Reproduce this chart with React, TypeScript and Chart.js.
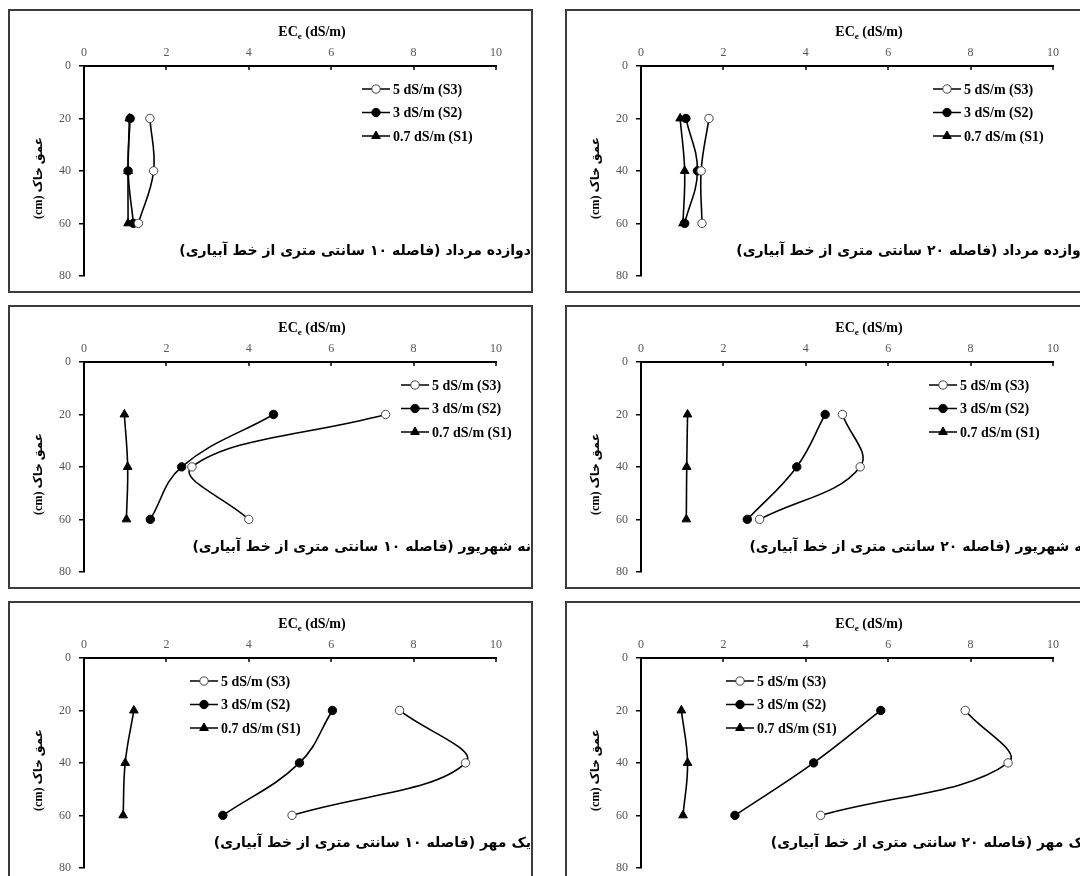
import React, { useEffect, useRef } from 'react';
import { Chart, registerables } from 'chart.js';
import { drawPoint } from 'chart.js/helpers';

Chart.register(...registerables);

const SERIF = "'Liberation Serif', 'Times New Roman', serif";
const ARABIC = "'DejaVu Sans', sans-serif";

// ---- data ----
const depths = [20, 40, 60];
const seriesLabels = ['5 dS/m (S3)', '3 dS/m (S2)', '0.7 dS/m (S1)'];
const xTitleMain = 'EC';
const xTitleSub = 'e';
const xTitleUnit = ' (dS/m)';
const yTitle = '(cm) عمق خاک';

const mordad10S3 = [1.6, 1.69, 1.32];
const mordad10S2 = [1.12, 1.07, 1.2];
const mordad10S1 = [1.1, 1.07, 1.07];
const mordad20S3 = [1.65, 1.46, 1.48];
const mordad20S2 = [1.09, 1.37, 1.06];
const mordad20S1 = [0.95, 1.06, 1.02];
const shahrivar10S3 = [7.32, 2.62, 4.0];
const shahrivar10S2 = [4.6, 2.37, 1.61];
const shahrivar10S1 = [0.98, 1.06, 1.03];
const shahrivar20S3 = [4.89, 5.32, 2.88];
const shahrivar20S2 = [4.47, 3.78, 2.58];
const shahrivar20S1 = [1.13, 1.11, 1.1];
const mehr10S3 = [7.66, 9.26, 5.05];
const mehr10S2 = [6.03, 5.23, 3.37];
const mehr10S1 = [1.21, 1.0, 0.95];
const mehr20S3 = [7.87, 8.91, 4.36];
const mehr20S2 = [5.82, 4.19, 2.28];
const mehr20S1 = [0.98, 1.13, 1.02];

const titleMordad10 = 'دوازده مرداد (فاصله ۱۰ سانتی متری از خط آبیاری)';
const titleMordad20 = 'دوازده مرداد (فاصله ۲۰ سانتی متری از خط آبیاری)';
const titleShahrivar10 = 'نه شهریور (فاصله ۱۰ سانتی متری از خط آبیاری)';
const titleShahrivar20 = 'نه شهریور (فاصله ۲۰ سانتی متری از خط آبیاری)';
const titleMehr10 = 'یک مهر (فاصله ۱۰ سانتی متری از خط آبیاری)';
const titleMehr20 = 'یک مهر (فاصله ۲۰ سانتی متری از خط آبیاری)';

// ---- layout ----
const BOX_W = 525;
const BOX_H = 284;
const BORDER = 2;
const CW = BOX_W - 2 * BORDER;
const CH = BOX_H - 2 * BORDER;

const decorPlugin = {
  id: 'decor',
  afterDraw(chart: any, _args: any, opts: any) {
    const ctx = chart.ctx as CanvasRenderingContext2D;
    const { top } = chart.chartArea;
    const xs = chart.scales.x;
    ctx.save();
    // inner tick marks on top axis
    ctx.strokeStyle = '#000';
    ctx.lineWidth = 1.5;
    xs.ticks.forEach((t: any) => {
      const px = Math.round(xs.getPixelForValue(t.value));
      ctx.beginPath();
      ctx.moveTo(px, top);
      ctx.lineTo(px, top + 4);
      ctx.stroke();
    });

    // x axis title with subscript
    ctx.fillStyle = '#000';
    ctx.textBaseline = 'alphabetic';
    ctx.textAlign = 'left';
    const big = `bold 14px ${SERIF}`;
    const small = `bold 9px ${SERIF}`;
    ctx.font = big;
    const w1 = ctx.measureText(xTitleMain).width;
    const w3 = ctx.measureText(xTitleUnit).width;
    ctx.font = small;
    const w2 = ctx.measureText(xTitleSub).width;
    let tx = opts.xTitleX - (w1 + w2 + w3) / 2;
    const by = opts.xTitleY + 5;
    ctx.font = big;
    ctx.fillText(xTitleMain, tx, by);
    tx += w1;
    ctx.font = small;
    ctx.fillText(xTitleSub, tx, by + 3);
    tx += w2;
    ctx.font = big;
    ctx.fillText(xTitleUnit, tx, by);

    // y axis title (rotated)
    ctx.save();
    ctx.translate(opts.yTitleX, opts.yTitleY);
    ctx.rotate(-Math.PI / 2);
    ctx.font = `bold 12px ${SERIF}, ${ARABIC}`;
    ctx.textAlign = 'center';
    ctx.textBaseline = 'middle';
    ctx.fillText(yTitle, 0, 0);
    ctx.restore();

    // legend
    chart.data.datasets.forEach((ds: any, i: number) => {
      const y = opts.legendY + i * 23.5;
      const x0 = opts.legendX;
      ctx.strokeStyle = '#000';
      ctx.lineWidth = 1.5;
      ctx.beginPath();
      ctx.moveTo(x0, y);
      ctx.lineTo(x0 + 28, y);
      ctx.stroke();
      ctx.fillStyle = ds.pointBackgroundColor;
      ctx.strokeStyle = ds.pointBorderColor;
      ctx.lineWidth = ds.pointBorderWidth;
      drawPoint(ctx, { pointStyle: ds.pointStyle, radius: ds.pointRadius, borderWidth: ds.pointBorderWidth, rotation: 0 } as any, x0 + 14, y);
      ctx.fillStyle = '#000';
      ctx.font = `bold 14px ${SERIF}`;
      ctx.textAlign = 'left';
      ctx.textBaseline = 'middle';
      ctx.fillText(ds.label, x0 + 31, y + 1);
    });

    // panel title (Persian, right-to-left)
    ctx.direction = 'rtl';
    ctx.textAlign = 'right';
    ctx.textBaseline = 'middle';
    ctx.font = `bold 14px ${ARABIC}`;
    ctx.fillStyle = '#000';
    ctx.fillText(opts.title, opts.titleRight, opts.titleY);
    ctx.restore();
  },
};

type PanelProps = {
  left: number;
  top: number;
  s3: number[];
  s2: number[];
  s1: number[];
  title: string;
  legendX: number;
};

function Panel({ left, top, s3, s2, s1, title, legendX }: PanelProps) {
  const ref = useRef<HTMLCanvasElement>(null);
  useEffect(() => {
    const toPts = (arr: number[]) => depths.map((d, i) => ({ x: arr[i], y: d }));
    const tick = { color: '#555', font: { family: SERIF, size: 12 } };
    const chart = new Chart(ref.current as HTMLCanvasElement, {
      type: 'line',
      data: {
        datasets: [
          {
            label: seriesLabels[0],
            data: toPts(s3),
            borderColor: '#000',
            borderWidth: 1.6,
            tension: 0.4,
            pointStyle: 'circle',
            pointRadius: 4.2,
            pointBackgroundColor: '#fff',
            pointBorderColor: '#444',
            pointBorderWidth: 1,
          },
          {
            label: seriesLabels[1],
            data: toPts(s2),
            borderColor: '#000',
            borderWidth: 1.6,
            tension: 0.4,
            pointStyle: 'circle',
            pointRadius: 4.2,
            pointBackgroundColor: '#000',
            pointBorderColor: '#000',
            pointBorderWidth: 1,
          },
          {
            label: seriesLabels[2],
            data: toPts(s1),
            borderColor: '#000',
            borderWidth: 1.6,
            tension: 0.4,
            pointStyle: 'triangle',
            pointRadius: 5,
            pointBackgroundColor: '#000',
            pointBorderColor: '#000',
            pointBorderWidth: 1,
          },
        ],
      } as any,
      options: {
        responsive: false,
        maintainAspectRatio: false,
        animation: false,
        devicePixelRatio: 1,
        layout: { padding: { left: 0, top: 0, right: CW - 486, bottom: CH - 266 } },
        plugins: {
          legend: { display: false },
          tooltip: { enabled: false },
          decor: {
            title,
            legendX,
            legendY: 78,
            xTitleX: 302,
            xTitleY: 20,
            yTitleX: 29,
            yTitleY: 167,
            titleRight: 521,
            titleY: 240,
          },
        } as any,
        scales: {
          x: {
            type: 'linear',
            position: 'top',
            min: 0,
            max: 10,
            ticks: { ...tick, stepSize: 2, padding: 6, maxRotation: 0 },
            grid: { display: true, drawOnChartArea: false, drawTicks: false },
            border: { display: true, color: '#000', width: 2 },
            afterFit: (s: any) => {
              s.height = 55;
            },
          },
          y: {
            type: 'linear',
            reverse: true,
            min: 0,
            max: 80,
            ticks: { ...tick, stepSize: 20, padding: 8 },
            grid: { display: true, drawOnChartArea: false, drawTicks: true, tickLength: 5, tickColor: '#000', lineWidth: 1.5 },
            border: { display: true, color: '#000', width: 2 },
            afterFit: (s: any) => {
              s.width = 74;
            },
          },
        },
      } as any,
      plugins: [decorPlugin],
    });
    return () => chart.destroy();
  }, []);
  return (
    <div
      style={{
        position: 'absolute',
        left,
        top,
        width: BOX_W,
        height: BOX_H,
        boxSizing: 'border-box',
        border: `${BORDER}px solid #3c3c3c`,
        background: '#fff',
      }}
    >
      <canvas ref={ref} width={CW} height={CH} style={{ display: 'block' }} />
    </div>
  );
}

export default function App() {
  const L = 8;
  const R = 565;
  return (
    <div
      style={{
        position: 'absolute',
        left: 0,
        top: 0,
        width: 1080,
        height: 876,
        overflow: 'hidden',
        background: '#fff',
      }}
    >
      <Panel left={L} top={9} s3={mordad10S3} s2={mordad10S2} s1={mordad10S1} title={titleMordad10} legendX={352} />
      <Panel left={R} top={9} s3={mordad20S3} s2={mordad20S2} s1={mordad20S1} title={titleMordad20} legendX={366} />
      <Panel left={L} top={305} s3={shahrivar10S3} s2={shahrivar10S2} s1={shahrivar10S1} title={titleShahrivar10} legendX={391} />
      <Panel left={R} top={305} s3={shahrivar20S3} s2={shahrivar20S2} s1={shahrivar20S1} title={titleShahrivar20} legendX={362} />
      <Panel left={L} top={601} s3={mehr10S3} s2={mehr10S2} s1={mehr10S1} title={titleMehr10} legendX={180} />
      <Panel left={R} top={601} s3={mehr20S3} s2={mehr20S2} s1={mehr20S1} title={titleMehr20} legendX={159} />
    </div>
  );
}
